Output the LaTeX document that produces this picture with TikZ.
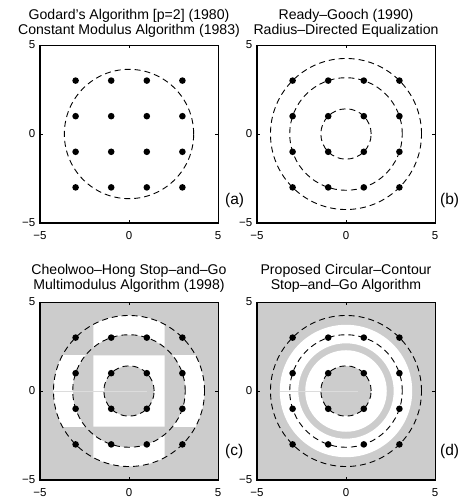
\documentclass[tikz,border=0pt]{standalone}
\usepackage{fontspec}
\setmainfont{Liberation Sans}
\definecolor{bggray}{HTML}{CCCCCC}
\definecolor{seam}{HTML}{DCDCDC}
\tikzset{
  boxthin/.style={line width=0.9pt},
  boxthick/.style={line width=1.8pt},
  ring/.style={line width=0.9pt, dash pattern=on 6pt off 4pt},
  ylab/.style={anchor=east, inner sep=0pt, font=\fontsize{11.5}{12}\selectfont, xshift=-4.5pt},
  xlab/.style={anchor=north, inner sep=0pt, font=\fontsize{11.5}{12}\selectfont, yshift=-8.5pt},
  ttl/.style={anchor=base, inner sep=0pt, font=\fontsize{14.1}{15}\selectfont},
  plab/.style={anchor=west, inner sep=0pt, font=\fontsize{15.5}{16}\selectfont},
  seamline/.style={draw=seam, line width=0.7pt},
}
\newcommand\myframe[1]{%
  \draw[boxthin] (-5,-5) rectangle (5,5);
  \draw[boxthick] (-5,5) -- (-5,-5) -- (5,-5);
  \draw[boxthin] (0,-5) -- ++(0,3pt) (0,5) -- ++(0,-3pt) (-5,0) -- ++(3pt,0) (5,0) -- ++(-3pt,0);
  \node[ylab] (#1yt) at (-5,5) {5};
  \node[ylab] (#1ym) at (-5,0) {0};
  \node[ylab] (#1yb) at (-5,-5) {−5};
  \node[xlab] (#1xl) at (-5,-5) {−5};
  \node[xlab] (#1xm) at (0,-5) {0};
  \node[xlab] (#1xr) at (5,-5) {5};
}
\newcommand\mydots{\foreach \px in {-3,-1,1,3}{\foreach \py in {-3,-1,1,3}{\fill (\px,\py) circle (3.3pt);}}}
\begin{document}
\begin{tikzpicture}[x=1pt,y=1pt]
\useasboundingbox (0,0) rectangle (465,500);
% ---------- panel a
\begin{scope}[shift={(129,366)}, x=17.8pt, y=17.8pt]
  \draw[ring] (0,0) circle (3.633);
  \mydots
  \myframe{a}
\end{scope}
\node[ttl] (ta1) at (129,480) {Godard's Algorithm [p=2] (1980)};
\node[ttl] (ta2) at (129,465) {Constant Modulus Algorithm (1983)};
\node[plab] (la) at (225,300) {(a)};
% ---------- panel b
\begin{scope}[shift={(346,366)}, x=17.8pt, y=17.8pt]
  \draw[ring] (0,0) circle (1.414);
  \draw[ring] (0,0) circle (3.162);
  \draw[ring] (0,0) circle (4.243);
  \mydots
  \myframe{b}
\end{scope}
\node[ttl] (tb1) at (346,480) {Ready–Gooch (1990)};
\node[ttl] (tb2) at (346,465) {Radius–Directed Equalization};
\node[plab] (lb) at (440,300) {(b)};
% ---------- panel c
\begin{scope}[shift={(129,109)}, x=17.8pt, y=17.8pt]
  \fill[bggray] (-5,-5) rectangle (5,5);
  \begin{scope}
    \clip (-2,-5) rectangle (2,5);
    \fill[white, even odd rule] (0,0) circle (4.243) (0,0) circle (3.162);
  \end{scope}
  \begin{scope}
    \clip (-5,-2) rectangle (5,2);
    \fill[white, even odd rule] (0,0) circle (4.243) (0,0) circle (3.162);
  \end{scope}
  \fill[white, even odd rule] (-2,-2) rectangle (2,2) (0,0) circle (1.414);
  \draw[seamline] (-4.24,0) -- (1.0,0);
  \draw[ring] (0,0) circle (1.414);
  \draw[ring] (0,0) circle (3.162);
  \draw[ring] (0,0) circle (4.243);
  \mydots
  \myframe{c}
\end{scope}
\node[ttl] (tc1) at (129,225) {Cheolwoo–Hong Stop–and–Go};
\node[ttl] (tc2) at (129,210) {Multimodulus Algorithm (1998)};
\node[plab] (lc) at (225,49) {(c)};
% ---------- panel d
\begin{scope}[shift={(346,109)}, x=17.8pt, y=17.8pt]
  \fill[bggray] (-5,-5) rectangle (5,5);
  \fill[white, even odd rule] (0,0) circle (3.72) (0,0) circle (2.68);
  \fill[white, even odd rule] (0,0) circle (2.29) (0,0) circle (1.414);
  \draw[seamline] (-3.72,0) -- (0.7,0);
  \draw[ring] (0,0) circle (1.414);
  \draw[ring] (0,0) circle (3.162);
  \draw[ring] (0,0) circle (4.243);
  \mydots
  \myframe{d}
\end{scope}
\node[ttl] (td1) at (346,225) {Proposed Circular–Contour};
\node[ttl] (td2) at (346,210) {Stop–and–Go Algorithm};
\node[plab] (ld) at (440,49) {(d)};
\end{tikzpicture}
\end{document}
